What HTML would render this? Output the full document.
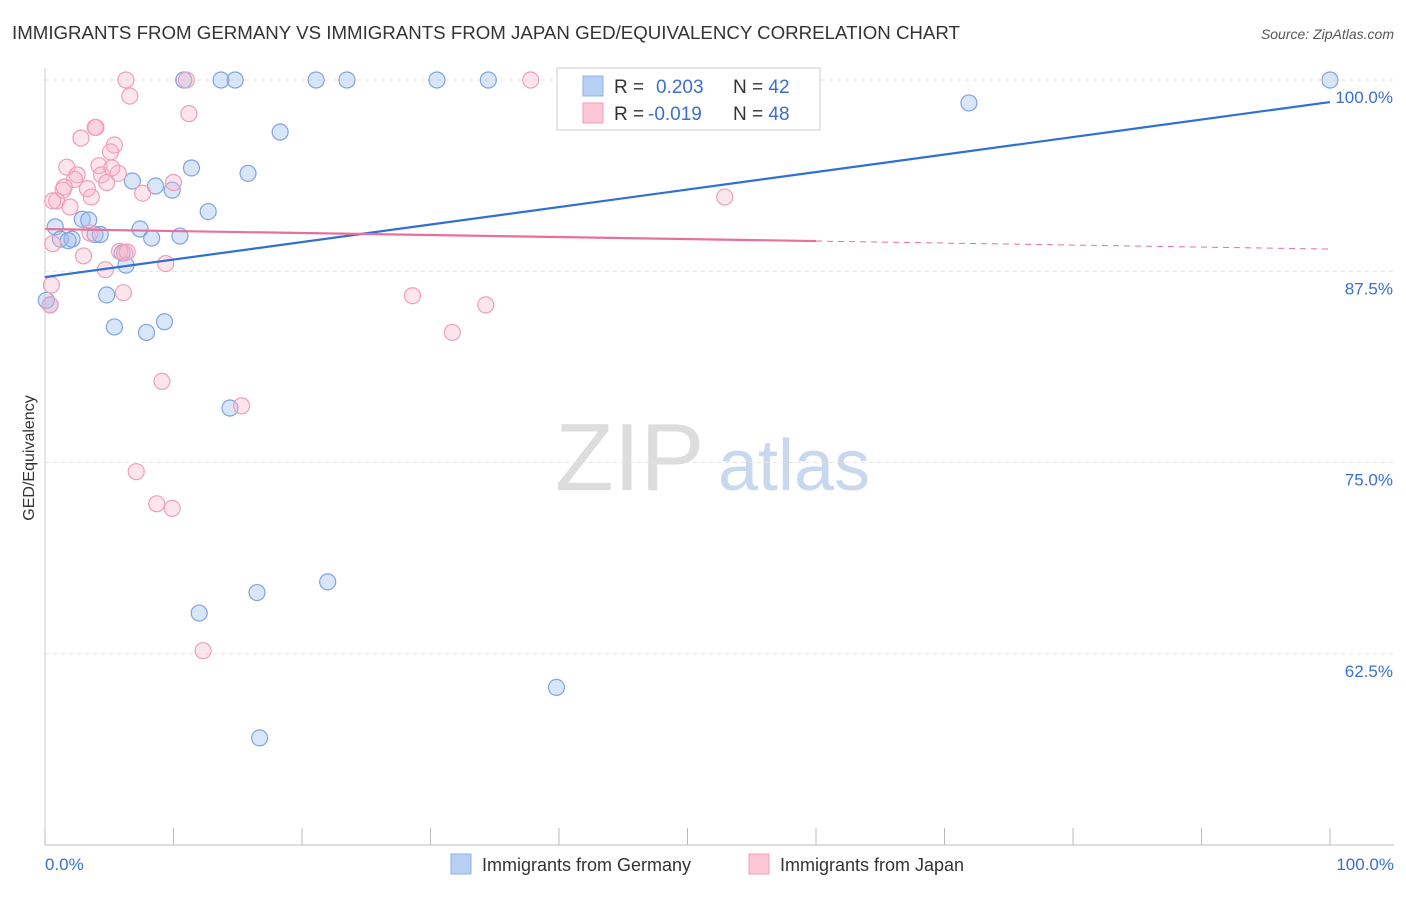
<!DOCTYPE html>
<html><head><meta charset="utf-8"><style>
body{margin:0;background:#fff;font-family:"Liberation Sans",sans-serif;}
svg text{font-family:"Liberation Sans",sans-serif;}
</style></head><body>
<svg id="chart" width="1406" height="892">
<text x="12" y="39" font-size="18.7" fill="#333">IMMIGRANTS FROM GERMANY VS IMMIGRANTS FROM JAPAN GED/EQUIVALENCY CORRELATION CHART</text>
<text x="1394" y="39" font-size="14" fill="#555" font-style="italic" text-anchor="end">Source: ZipAtlas.com</text>
<text x="34" y="458" font-size="16" fill="#333" transform="rotate(-90 34 458)" text-anchor="middle">GED/Equivalency</text>
<g><text x="555" y="490" font-size="96" fill="#ddd" font-family="Liberation Serif">ZIP</text><text x="718" y="490" font-size="72" fill="#c8d8ee">atlas</text></g>
<g id="grid"></g><g id="marks"></g>
<g>
<rect x="557" y="68" width="263" height="62" fill="#fff" stroke="#ccc"/>
<rect x="583" y="76" width="20" height="20" fill="#b7cff3" stroke="#8fb0e5"/>
<rect x="583" y="103" width="20" height="20" fill="#fbc6d6" stroke="#f2a0ba"/>
<text x="614" y="93" font-size="19" fill="#333">R = <tspan fill="#3a6fd1" x="656">0.203</tspan><tspan fill="#333" x="733">N = </tspan><tspan fill="#3a6fd1">42</tspan></text>
<text x="614" y="120" font-size="19" fill="#333">R = <tspan fill="#3a6fd1" x="648">-0.019</tspan><tspan fill="#333" x="733">N = </tspan><tspan fill="#3a6fd1">48</tspan></text>
</g>
<g>
<rect x="451" y="854" width="20" height="20" fill="#b7cff3" stroke="#8fb0e5"/>
<text x="482" y="871" font-size="18" fill="#333">Immigrants from Germany</text>
<rect x="749" y="854" width="20" height="20" fill="#fbc6d6" stroke="#f2a0ba"/>
<text x="780" y="871" font-size="18" fill="#333">Immigrants from Japan</text>
</g>
</svg>
<script>
const yTicks=[100,87.5,75,62.5];
const yTickLabels=["100.0%","87.5%","75.0%","62.5%"];
const xLabels=["0.0%","100.0%"];
const germanyX=[10.8,13.7,14.8,21.1,23.5,30.5,34.5,47.7,100,71.9,18.3,11.4,15.8,6.8,8.6,9.9,12.7,0.8,2.9,3.4,1.2,2.1,3.9,4.3,7.4,8.3,10.5,6.0,6.3,4.8,0.4,5.4,7.9,9.3,14.4,22.0,16.5,12.0,39.8,16.7,0.1,1.8];
const germanyY=[100,100,100,100,100,100,100,100,100,98.5,96.6,94.25,93.9,93.4,93.07,92.8,91.4,90.4,90.9,90.85,89.6,89.6,89.9,89.9,90.26,89.67,89.8,88.7,87.9,85.95,85.3,83.86,83.5,84.2,78.56,67.2,66.5,65.16,60.3,57.0,85.6,89.5];
const japanX=[6.3,11.0,37.8,6.6,11.2,3.97,3.9,2.8,5.4,5.1,1.7,4.2,2.5,2.3,5.7,4.4,10.0,1.4,3.3,4.8,7.6,3.6,0.9,1.95,0.6,52.9,3.5,5.8,6.2,3.0,9.4,0.6,4.7,6.1,0.5,0.4,28.6,34.3,31.7,9.1,15.3,7.1,8.7,9.9,12.3,1.5,6.4,5.2];
const japanY=[100,100,100,98.95,97.8,96.9,96.9,96.2,95.75,95.3,94.3,94.4,93.8,93.5,93.9,93.8,93.3,92.8,92.9,93.3,92.6,92.35,92.1,91.7,92.1,92.35,90.0,88.8,88.7,88.5,88.0,89.3,87.6,86.1,86.6,85.3,85.9,85.3,83.5,80.3,78.7,74.4,72.3,72.0,62.7,93.0,88.76,94.25];
const xs=v=>45+v*12.85, ys=v=>80+(100-v)*15.3;
const NS="http://www.w3.org/2000/svg";
const grid=document.getElementById('grid'), marks=document.getElementById('marks');
function mk(p,tag,a){const e=document.createElementNS(NS,tag);for(const k in a)e.setAttribute(k,a[k]);p.appendChild(e);return e;}
yTicks.forEach((t,i)=>{
  const l=mk(grid,'line',{x1:45,x2:1394,y1:ys(t),y2:ys(t),stroke:'#e4e4e4','stroke-dasharray':'4,4'});
  
  
  const tx=mk(grid,'text',{x:1393,y:ys(t)+23,'font-size':17,fill:'#3a6fd1','text-anchor':'end'});tx.textContent=yTickLabels[i];
  
  
});
const ax=mk(grid,'line',{x1:45,x2:1394,y1:845,y2:845,stroke:'#bbb'});


const ay=mk(grid,'line',{x1:45,x2:45,y1:68,y2:845,stroke:'#ccc'});


for(let i=0;i<=10;i++){const t=mk(grid,'line',{x1:xs(i*10),x2:xs(i*10),y1:828,y2:845,stroke:'#bbb'});
  
  }
[[0,'start',45],[1,'end',1394]].forEach(([i,a,x])=>{const t=mk(grid,'text',{x:x,y:870,'font-size':17,fill:'#3a6fd1','text-anchor':a});t.textContent=xLabels[i];
  
  });
germanyX.forEach((x,i)=>{const c=mk(marks,'circle',{cx:xs(x),cy:ys(germanyY[i]),r:8,fill:'rgba(160,190,240,0.4)',stroke:'#7fa4e0','stroke-width':1.2});
  
  });
japanX.forEach((x,i)=>{const c=mk(marks,'circle',{cx:xs(x),cy:ys(japanY[i]),r:8,fill:'rgba(250,180,200,0.35)',stroke:'#ef9fb8','stroke-width':1.2});
  
  });
const bt=mk(marks,'line',{x1:xs(0),y1:ys(87.12),x2:xs(100),y2:ys(98.56),stroke:'#2f6fd6','stroke-width':2.2});


const pf=(x)=>90.26+(88.95-90.26)*x/100;
const pt=mk(marks,'line',{x1:xs(0),y1:ys(pf(0)),x2:xs(60),y2:ys(pf(60)),stroke:'#e8709a','stroke-width':2.2});


const pd=mk(marks,'line',{x1:xs(60),y1:ys(pf(60)),x2:xs(100),y2:ys(pf(100)),stroke:'#e8709a','stroke-width':1,'stroke-dasharray':'6,5'});


</script>
</body></html>
